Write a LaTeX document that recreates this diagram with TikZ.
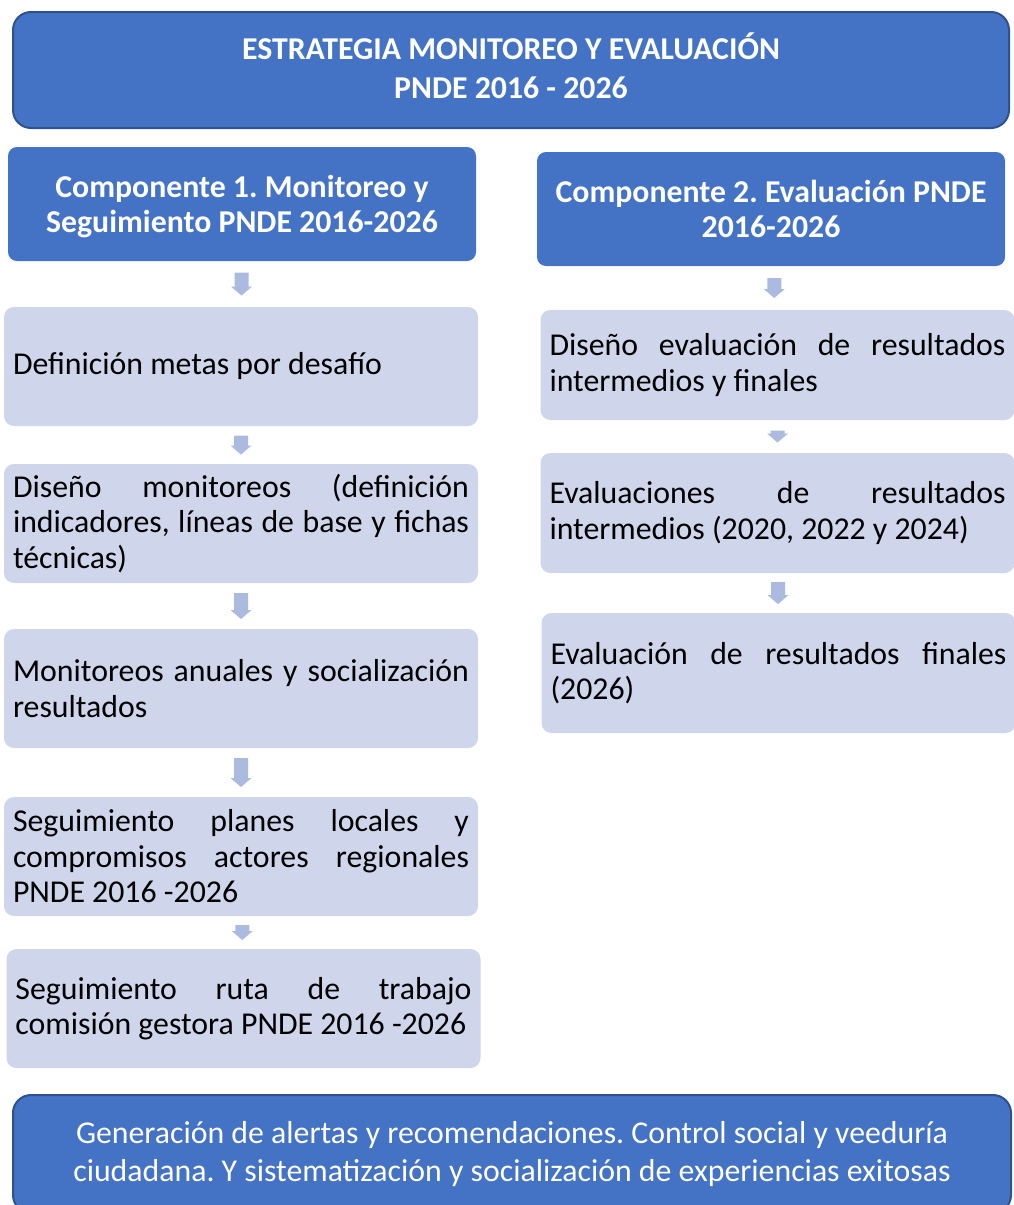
\documentclass[tikz,border=0pt]{standalone}
\usepackage{fontspec}
\setmainfont{Carlito}
\usetikzlibrary{calc}
\definecolor{dblue}{HTML}{4472C4}
\definecolor{dedge}{HTML}{2F528F}
\definecolor{lblue}{HTML}{CFD5EA}
\definecolor{ablue}{HTML}{ADBADF}
\frenchspacing
\newlength{\tw}
\setlength{\tw}{456pt}
\newcommand{\jl}[1]{\makebox[\tw][s]{#1}\\}
\newcommand{\downarr}[4]{% #1 from node, #2 to node, #3 length, #4 name
  \coordinate (#4) at ($(#1.south)!0.5!(#2.north)$);
  \pgfmathsetmacro\arrHalf{#3/2}%
  \pgfmathsetmacro\arrBase{#3/2-9}%
  \fill[darr, shift={(#4)}] (-7,-\arrHalf) -- (7,-\arrHalf) -- (7,\arrBase) -- (10.5,\arrBase)
    -- (0,\arrHalf) -- (-10.5,\arrBase) -- (-7,\arrBase) -- cycle;}
\tikzset{
  normalspaces/.style={execute at begin node={\frenchspacing\spaceskip=0pt\xspaceskip=0pt\relax}},
  bigbox/.style={rectangle, rounded corners=18, fill=dblue, draw=dedge, line width=2pt,
    text=white, align=center, inner sep=0pt, normalspaces},
  headbox/.style={rectangle, rounded corners=9, fill=dblue, text=white, align=center,
    inner sep=0pt, minimum width=468pt, minimum height=114pt, normalspaces,
    font=\fontsize{31.8}{35}\selectfont\bfseries},
  itembox/.style={rectangle, rounded corners=10, fill=lblue, text=black, align=left,
    text width=456pt, inner xsep=9pt, inner ysep=0pt, minimum height=119pt, normalspaces,
    font=\fontsize{31.8}{35.5}\selectfont},
  darr/.style={fill=ablue, draw=none}
}
\begin{document}
\begin{tikzpicture}[x=1pt,y=-1pt]
\useasboundingbox (0,0) rectangle (1014,1205);
\clip (0,0) rectangle (1014,1205);
% title
\node[bigbox, minimum width=996pt, minimum height=116pt, text depth=8pt,
  font=\fontsize{31.8}{39}\selectfont\bfseries] (title) at (511,70)
  {ESTRATEGIA MONITOREO Y EVALUACIÓN\\PNDE 2016 - 2026};
% headers
\node[headbox, text depth=0pt] (c1) at (242,204) {Componente 1. Monitoreo y\\Seguimiento PNDE 2016-2026};
\node[headbox] (c2) at (771,209) {Componente 2. Evaluación PNDE\\2016-2026};
% left column
\node[itembox] (l1) at (241,366.5) {Definición metas por desafío};
\node[itembox] (l2) at (241,523.5) {\jl{Diseño monitoreos (definición}\jl{indicadores, líneas de base y fichas}técnicas)};
\node[itembox] (l3) at (241,688.5) {\jl{Monitoreos anuales y socialización}resultados};
\node[itembox] (l4) at (241,856.5) {\jl{Seguimiento planes locales y}\jl{compromisos actores regionales}PNDE 2016 -2026};
\node[itembox] (l5) at (243.5,1008.5) {\jl{Seguimiento ruta de trabajo}\mbox{comisión gestora PNDE 2016 -2026}};
% right column
\node[itembox, minimum height=110pt] (r1) at (777.5,365) {\jl{Diseño evaluación de resultados}intermedios y finales};
\node[itembox, minimum height=120pt] (r2) at (777.5,513) {\jl{Evaluaciones de resultados}intermedios (2020, 2022 y 2024)};
\node[itembox, minimum height=120pt] (r3) at (778.5,673) {\jl{Evaluación de resultados finales}(2026)};
% bottom
\node[bigbox, minimum width=998pt, minimum height=118pt,
  font=\fontsize{31.8}{38}\selectfont] (bottom) at (512,1154)
  {Generación de alertas y recomendaciones. Control social y veeduría\\ciudadana. Y sistematización y socialización de experiencias exitosas};
% arrows
\downarr{c1}{l1}{23}{a1}
\downarr{l1}{l2}{19}{a2}
\downarr{l2}{l3}{26}{a3}
\downarr{l3}{l4}{29}{a4}
\downarr{l4}{l5}{15}{a5}
\downarr{c2}{r1}{20}{a6}
\downarr{r1}{r2}{12}{a7}
\downarr{r2}{r3}{22}{a8}
\end{tikzpicture}
\end{document}
